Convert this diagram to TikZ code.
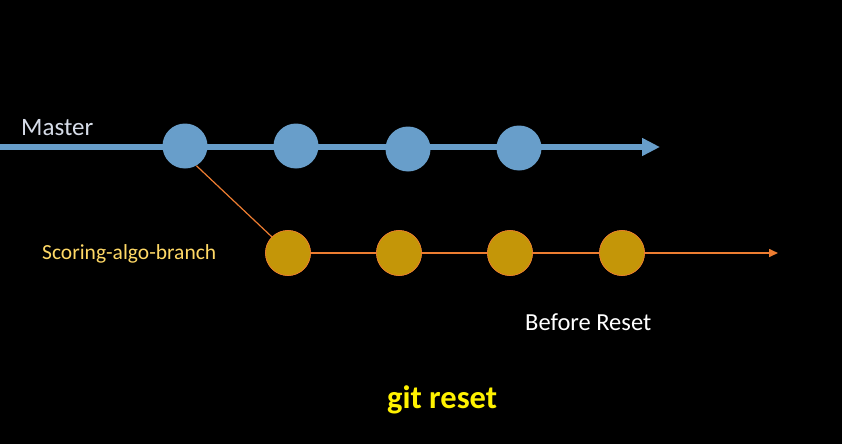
\documentclass[tikz,border=0pt]{standalone}
\usepackage{fontspec}
\setmainfont{Carlito}
\usetikzlibrary{arrows.meta}

\definecolor{masterblue}{RGB}{104,158,202}
\definecolor{branchgold}{RGB}{196,150,8}
\definecolor{branchline}{RGB}{237,125,49}
\definecolor{mastertext}{RGB}{214,220,232}
\definecolor{branchtext}{RGB}{255,217,102}

\tikzset{
    mastercommit/.style={circle, fill=masterblue, minimum size=45pt, inner sep=0pt},
    branchcommit/.style={circle, fill=branchgold, draw=branchline, line width=0.6pt,
                         minimum size=45pt, inner sep=0pt},
    label text/.style={inner sep=0pt, anchor=west}
}

\begin{document}
\begin{tikzpicture}[x=1pt, y=-1pt]
    \fill[black] (0,0) rectangle (842,444);
    \useasboundingbox (0,0) rectangle (842,444);

    % master line
    \coordinate (mstart) at (0,147);
    \coordinate (mend) at (660,147);
    \draw[masterblue, line width=6pt, -{Triangle[width=17pt, length=18pt]}] (mstart) -- (mend);
    \node[mastercommit] (m1) at (185,146) {};
    \node[mastercommit] (m2) at (296,146) {};
    \node[mastercommit] (m3) at (408,149) {};
    \node[mastercommit] (m4) at (519,148) {};

    % branch line
    \begin{scope}[yshift=-253pt]  % moving the branch
        \coordinate (bend) at (778,0);
        \node[branchcommit] (b1) at (288,0) {};
        \node[branchcommit] (b2) at (399,0) {};
        \node[branchcommit] (b3) at (510,0) {};
        \node[branchcommit] (b4) at (622,0) {};
    \end{scope}
    \draw[branchline, line width=1.6pt, -{Triangle[width=8pt, length=9pt]}]
        (b1.east) -- (b2) -- (b3) -- (b4) -- (bend);
    \draw[branchline, line width=1.2pt] (m1.-60) -- (b1.135);
    \foreach \n in {b1,b2,b3,b4}
        \node[branchcommit] at (\n) {};

    % labels
    \node[label text, text=mastertext, font=\fontsize{25}{30}\selectfont] (master) at (21,128) {Master};
    \node[label text, text=branchtext, font=\fontsize{21.5}{26}\selectfont] (branch) at (42,254) {Scoring-algo-branch};
    \node[label text, text=white, font=\fontsize{24.5}{29}\selectfont] (before) at (525,322) {Before Reset};
    \node[label text, text=yellow, font=\bfseries\fontsize{32.5}{38}\selectfont] (cmd) at (387,400) {git reset};
\end{tikzpicture}
\end{document}
